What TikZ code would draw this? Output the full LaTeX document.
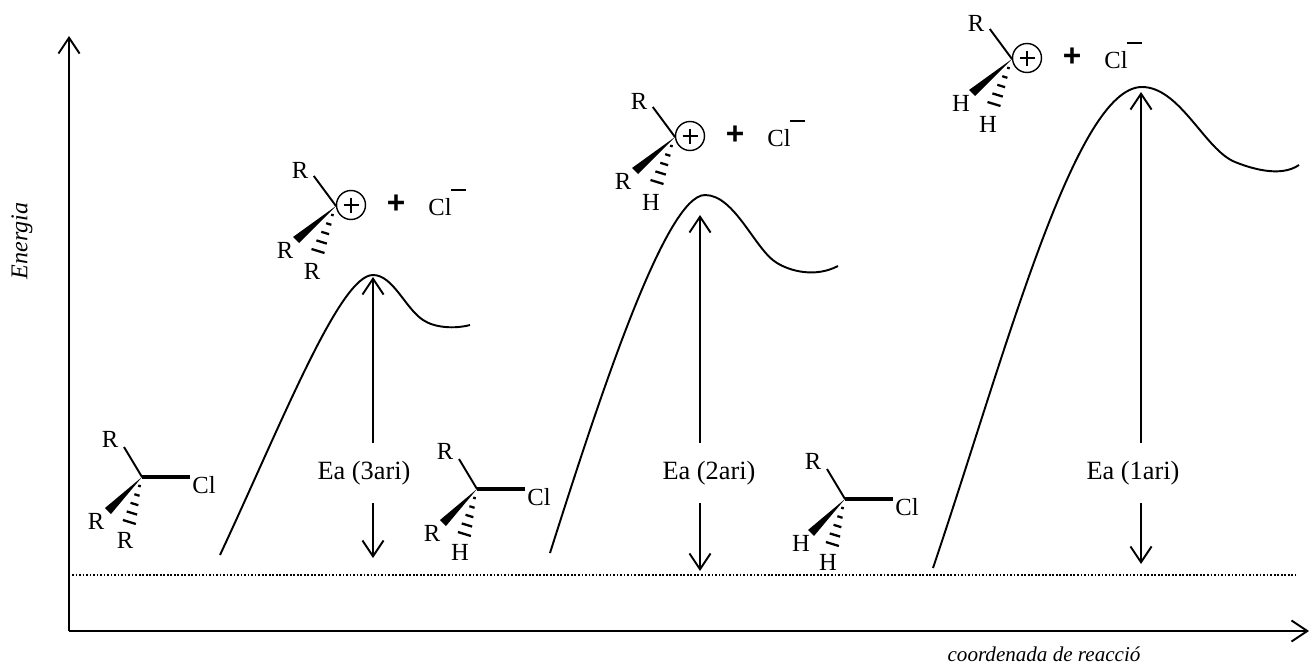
\documentclass[tikz,border=0pt]{standalone}
\usepackage{fontspec}
\setmainfont{Liberation Serif}
\setsansfont{Liberation Sans}
\usetikzlibrary{arrows.meta, positioning, calc}

\tikzset{
  line/.style={line width=1.1pt},
  arrow/.style={line, -{Straight Barb[length=9pt,width=12pt,line width=1.1pt]}},
  atom/.style={inner sep=0pt, font=\fontsize{14}{16}\selectfont},
  gap/.style={inner sep=0pt, font=\fontsize{15}{18}\selectfont, minimum height=1.2cm},
  caption/.style={inner sep=0pt, font=\fontsize{12}{15}\selectfont\itshape}
}

% Wedge, hashes and first bond, all around the carbon (#1)
\newcommand{\bonds}[2]{%
  \draw[line] (#1) -- +(-18+.7*#2,-30);
  \fill (#1) -- +(-37+#2,31) -- +(-31+#2,37) -- cycle;
  \foreach \t/\w in {0.18/1,0.36/2,0.54/3,0.72/4,0.9/5}
    \draw[line width=1.3pt] ($(#1)+(-14*\t+#2*\t,50*\t)+(-1.3*\w,-.4*\w)$) -- ($(#1)+(-14*\t+#2*\t,50*\t)+(1.3*\w,.4*\w)$);
}
% Halide: name, x, y, x offset of second label, three labels
\newcommand{\halide}[6]{%
  \coordinate (#1) at (#2,#3);
  \bonds{#1}{0}
  \node[atom] (#1a) at ($(#1)+(-32,-38)$) {R};
  \node[atom] (#1b) at ($(#1)+(#4,44)$) {#5};
  \node[atom] (#1c) at ($(#1)+(-17,63)$) {#6};
  \node[atom] (#1cl) at ($(#1)+(62,8)$) {Cl};
  \coordinate (#1e) at ($(#1)+(48,0)$);
  \draw[line width=2.2pt] (#1) -- (#1e);
}
% Cation: name, x, y, x offset of second label, two labels
\newcommand{\cation}[6]{%
  \coordinate (#1) at (#2,#3);
  \bonds{#1}{-6}
  \node[atom] (#1a) at ($(#1)+(-36,-36)$) {R};
  \node[atom] (#1b) at ($(#1)+(#4,44)$) {#5};
  \node[atom] (#1d) at ($(#1)+(-24,65)$) {#6};
  \node[circle, draw, line width=.8pt, minimum size=16.5pt, inner sep=0pt] (#1c) at ($(#1)+(15,-1)$) {};
  \draw[line] ($(#1c)+(-7.5,0)$) -- ($(#1c)+(7.5,0)$);
  \draw[line] ($(#1c)+(0,-7.5)$) -- ($(#1c)+(0,7.5)$);
  \node[inner sep=0pt, font=\sffamily\bfseries\fontsize{18}{18}\selectfont] (#1s) at ($(#1)+(60,-2)$) {+};
  \node[atom] (#1cl) at ($(#1)+(104,1)$) {Cl};
  \coordinate (#1m) at ($(#1)+(115,-16)$);
  \coordinate (#1n) at ($(#1)+(130,-16)$);
  \draw[line width=1.5pt] (#1m) -- (#1n);
}

\begin{document}
\begin{tikzpicture}[x=0.02cm, y=-0.02cm]
  \useasboundingbox (0,0) rectangle (1309,666);
  % Axes
  \coordinate (origin) at (69,631);
  \coordinate (ymax) at (69,36);
  \coordinate (xmax) at (1309,631);
  \draw[arrow] (origin) -- (ymax);
  \draw[arrow] (origin) -- (xmax);
  \node[caption, rotate=90, font=\fontsize{13.7}{15}\selectfont\itshape] (energy) at (22,241) {Energia};
  \node[caption] (reaction) at (1044,654) {coordenada de reacció};
  % Reference level
  \coordinate (levelA) at (72,575);
  \coordinate (levelB) at (1296,575);
  \draw[line width=.8pt, dash pattern=on 1pt off 1pt] (levelA) -- (levelB);
  % Energy curves
  \draw[line] (220,555) .. controls (283,420) and (340,275) .. (373,275)
    .. controls (393,275) and (405,308) .. (423,320) .. controls (435,328) and (455,329) .. (470,325);
  \draw[line] (550,553) .. controls (597,405) and (665,195) .. (705,195)
    .. controls (735,195) and (755,250) .. (777,263) .. controls (790,271) and (815,278) .. (838,266);
  \draw[line] (933,568) .. controls (1005,355) and (1075,87) .. (1142,87)
    .. controls (1180,87) and (1205,150) .. (1235,162) .. controls (1250,168) and (1280,178) .. (1299,165);
  % Activation energies
  \coordinate (top3) at (373,277);
  \coordinate (bot3) at (373,558);
  \node[gap] (ea3) at (364,473) {Ea (3ari)};
  \draw[arrow] (top3 |- ea3.north) -- (top3);
  \draw[arrow] (bot3 |- ea3.south) -- (bot3);
  \coordinate (top2) at (700,215);
  \coordinate (bot2) at (700,571);
  \node[gap] (ea2) at (709,473) {Ea (2ari)};
  \draw[arrow] (top2 |- ea2.north) -- (top2);
  \draw[arrow] (bot2 |- ea2.south) -- (bot2);
  \coordinate (top1) at (1141,92);
  \coordinate (bot1) at (1141,564);
  \node[gap] (ea1) at (1133,473) {Ea (1ari)};
  \draw[arrow] (top1 |- ea1.north) -- (top1);
  \draw[arrow] (bot1 |- ea1.south) -- (bot1);
  % Molecules
  \halide{terc}{142}{477}{-46}{R}{R}
  \halide{sec}{477}{489}{-45}{R}{H}
  \halide{prim}{845}{499}{-44}{H}{H}
  \cation{ct}{336}{206}{-51}{R}{R}
  \cation{cs}{675}{137}{-52}{R}{H}
  \cation{cp}{1012}{59}{-51}{H}{H}
\end{tikzpicture}
\end{document}
